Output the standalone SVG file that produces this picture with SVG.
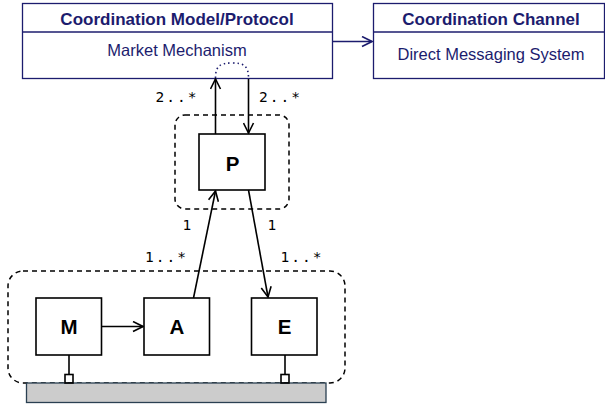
<svg xmlns="http://www.w3.org/2000/svg" width="605" height="404" viewBox="0 0 605 404">
<style>
.box{fill:#fff;stroke:#1c1c6e;stroke-width:1.3}
.hdr{font-family:"Liberation Sans",Arial,sans-serif;font-weight:bold;font-size:17px;fill:#1c1c6e;text-anchor:middle}
.body{font-family:"Liberation Sans",Arial,sans-serif;font-size:16.5px;fill:#1c1c6e;text-anchor:middle}
.node{fill:#fff;stroke:#000;stroke-width:1.6}
.lbl{font-family:"Liberation Sans",Arial,sans-serif;font-weight:bold;font-size:20.5px;fill:#000;text-anchor:middle}
.mult{font-family:"DejaVu Sans Mono","Liberation Mono",monospace;font-size:14.5px;fill:#000;letter-spacing:2px}
.dash{fill:none;stroke:#000;stroke-width:1.5;stroke-dasharray:5,4}
.line{fill:none;stroke:#000;stroke-width:1.6}
</style>
<defs>
<marker id="open" viewBox="0 0 12 12" refX="11" refY="6" markerWidth="12" markerHeight="12" markerUnits="userSpaceOnUse" orient="auto">
<path d="M1,1 L11,6 L1,11" fill="none" stroke="#000" stroke-width="1.6"/>
</marker>
<marker id="openb" viewBox="0 0 12 12" refX="11" refY="6" markerWidth="12" markerHeight="12" markerUnits="userSpaceOnUse" orient="auto">
<path d="M1,1 L11,6 L1,11" fill="none" stroke="#1c1c6e" stroke-width="1.6"/>
</marker>
</defs>
<g id="groups">
<rect class="dash" x="175" y="115" width="114" height="94" rx="10"/>
<rect class="dash" x="8" y="271" width="337" height="112" rx="15"/>
</g>
<g id="model">
<rect class="box" x="22.5" y="3.5" width="310" height="75"/>
<line x1="22.5" y1="32" x2="332.5" y2="32" stroke="#1c1c6e" stroke-width="1.3"/>
<text class="hdr" x="177" y="25">Coordination Model/Protocol</text>
<text class="body" x="177" y="56">Market Mechanism</text>
</g>
<g id="channel">
<rect class="box" x="373.5" y="3.5" width="231" height="75"/>
<line x1="373.5" y1="32" x2="604.5" y2="32" stroke="#1c1c6e" stroke-width="1.3"/>
<text class="hdr" x="491" y="25">Coordination Channel</text>
<text class="body" x="491" y="59.5">Direct Messaging System</text>
</g>
<g id="P">
<rect class="node" x="199" y="134" width="66" height="56"/>
<text class="lbl" x="232.5" y="170.7">P</text>
</g>
<g id="M">
<rect class="node" x="36" y="298" width="65.5" height="57"/>
<text class="lbl" x="69" y="334.3">M</text>
</g>
<g id="A">
<rect class="node" x="144" y="298" width="65.5" height="57"/>
<text class="lbl" x="177" y="334.3">A</text>
</g>
<g id="E">
<rect class="node" x="251.5" y="298" width="65.5" height="57"/>
<text class="lbl" x="284.5" y="334.3">E</text>
</g>
<g id="bus">
<rect x="26.5" y="383" width="299.5" height="19.5" fill="#cccccc" stroke="#2a4052" stroke-width="1.3"/>
</g>
<g id="connectors">
<line x1="332.5" y1="41.5" x2="372" y2="41.5" stroke="#1c1c6e" stroke-width="1.6" marker-end="url(#openb)"/>
<path d="M215.5,78 C215.5,66 220,63 232,63 C244,63 248.5,66 248.5,78" fill="none" stroke="#1c1c6e" stroke-width="1.6" stroke-dasharray="1.5,3"/>
<line class="line" x1="215.5" y1="134" x2="215.5" y2="79" marker-end="url(#open)"/>
<line class="line" x1="248.5" y1="79" x2="248.5" y2="133" marker-end="url(#open)"/>
<line class="line" x1="193.5" y1="298" x2="215.5" y2="191" marker-end="url(#open)"/>
<line class="line" x1="248.5" y1="190" x2="268" y2="297" marker-end="url(#open)"/>
<line class="line" x1="101.5" y1="326.5" x2="143" y2="326.5" marker-end="url(#open)"/>
<line class="line" x1="69" y1="355" x2="69" y2="374.5"/>
<rect class="line" x="65" y="374.5" width="8" height="8.5" stroke-width="1.3"/>
<line class="line" x1="285" y1="355" x2="285" y2="374.5"/>
<rect class="line" x="281" y="374.5" width="8" height="8.5" stroke-width="1.3"/>
<text class="mult" x="155.5" y="101.5">2..*</text>
<text class="mult" x="259" y="101.5">2..*</text>
<text class="mult" x="182.5" y="230">1</text>
<text class="mult" x="267.5" y="230">1</text>
<text class="mult" x="145" y="261.5">1..*</text>
<text class="mult" x="280.5" y="261.5">1..*</text>
</g>
</svg>
